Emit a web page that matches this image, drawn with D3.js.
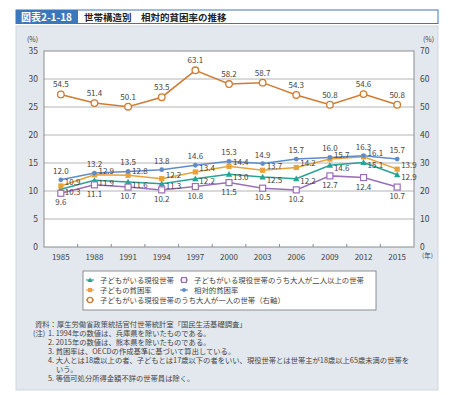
<!DOCTYPE html>
<html>
<head>
<meta charset="utf-8">
<script src="https://cdn.jsdelivr.net/npm/d3@7"></script>
<style>
  body { margin: 0; background: #fff; }
  svg text { font-family: "Noto Sans CJK JP", "Noto Sans", sans-serif; }
</style>
</head>
<body>
<svg id="chart" width="450" height="395"></svg>
<script>
// data
var years = ["1985", "1988", "1991", "1994", "1997", "2000", "2003", "2006", "2009", "2012", "2015"];
var soutai = [12.0, 13.2, 13.5, 13.8, 14.6, 15.3, 14.9, 15.7, 16.0, 16.3, 15.7];
var kodomo = [10.9, 12.9, 12.8, 12.2, 13.4, 14.4, 13.7, 14.2, 15.7, 16.1, 13.9];
var geneki = [10.3, 11.9, 11.6, 11.3, 12.2, 13.0, 12.5, 12.2, 14.6, 15.1, 12.9];
var futari = [9.6, 11.1, 10.7, 10.2, 10.8, 11.5, 10.5, 10.2, 12.7, 12.4, 10.7];
var hitori = [54.5, 51.4, 50.1, 53.5, 63.1, 58.2, 58.7, 54.3, 50.8, 54.6, 50.8];
var leftTicks = [0, 5, 10, 15, 20, 25, 30, 35];
var rightTicks = [0, 10, 20, 30, 40, 50, 60, 70];
var notes = [
    "資料：厚生労働省政策統括官付世帯統計室「国民生活基礎調査」",
    "1. 1994年の数値は、兵庫県を除いたものである。",
    "2. 2015年の数値は、熊本県を除いたものである。",
    "3. 貧困率は、OECDの作成基準に基づいて算出している。",
    "4. 大人とは18歳以上の者、子どもとは17歳以下の者をいい、現役世帯とは世帯主が18歳以上65歳未満の世帯を",
    "いう。",
    "5. 等価可処分所得金額不詳の世帯員は除く。"
];

var svg = d3.select('#chart');
var textCol = "#444";

// panel + title
svg.append("rect").attr("x", 16).attr("y", 26).attr("width", 422).attr("height", 364)
    .attr("fill", "#e2e8ee").attr("stroke", "#cfd6de");
svg.append("rect").attr("x", 16).attr("y", 10).attr("width", 422).attr("height", 13.5)
    .attr("fill", "#fff").attr("stroke", "#3a78bd").attr("stroke-width", 1);
svg.append("rect").attr("x", 16).attr("y", 10).attr("width", 62).attr("height", 13.5)
    .attr("fill", "#3a78bd");
svg.append("text").attr("x", 21).attr("y", 20.5).text("図表2-1-18")
    .attr("fill", "#fff").attr("font-size", 10).attr("font-weight", "bold");
svg.append("text").attr("x", 84).attr("y", 20.5).text("世帯構造別　相対的貧困率の推移")
    .attr("fill", "#222").attr("font-size", 9.5).attr("font-weight", "bold");

// plot area
var plotL = 44, plotR = 414, plotT = 51, plotB = 247;

var x = d3.scalePoint().domain(years).range([plotL, plotR]).padding(0.5);
var yL = d3.scaleLinear().domain([0, 35]).range([plotB, plotT]);
var yR = d3.scaleLinear().domain([0, 70]).range([plotB, plotT]);

svg.append("rect").attr("x", plotL).attr("y", plotT).attr("width", plotR - plotL).attr("height", plotB - plotT)
    .attr("fill", "#fff");

svg.selectAll(".grid").data(leftTicks.slice(1, -1)).enter().append("line")
    .attr("x1", plotL).attr("x2", plotR)
    .attr("y1", function (d) { return yL(d); }).attr("y2", function (d) { return yL(d); })
    .attr("stroke", "#b4b4b4").attr("stroke-width", 1);

svg.append("rect").attr("x", plotL).attr("y", plotT).attr("width", plotR - plotL).attr("height", plotB - plotT)
    .attr("fill", "none").attr("stroke", "#8c8c8c").attr("stroke-width", 1);

// x ticks between categories
var step = x.step();
var tickXs = years.slice(1).map(function (d) { return x(d) - step / 2; });
svg.selectAll(".xtick").data(tickXs).enter().append("line")
    .attr("x1", function (d) { return d; }).attr("x2", function (d) { return d; })
    .attr("y1", plotB).attr("y2", plotB - 3)
    .attr("stroke", "#8c8c8c");

// axis labels
svg.selectAll(".ylab").data(leftTicks).enter().append("text")
    .attr("x", 38).attr("y", function (d) { return yL(d) + 3; })
    .attr("text-anchor", "end").attr("font-size", 8.5).attr("fill", textCol)
    .text(function (d) { return d; });
svg.selectAll(".yrlab").data(rightTicks).enter().append("text")
    .attr("x", 420).attr("y", function (d) { return yR(d) + 3; })
    .attr("font-size", 8.5).attr("fill", textCol)
    .text(function (d) { return d; });
svg.selectAll(".xlab").data(years).enter().append("text")
    .attr("x", function (d) { return x(d); }).attr("y", 260)
    .attr("text-anchor", "middle").attr("font-size", 8).attr("fill", textCol)
    .text(function (d) { return d; });
svg.append("text").attr("x", 27).attr("y", 42).attr("font-size", 7).attr("fill", textCol).text("(%)");
svg.append("text").attr("x", 423).attr("y", 42).attr("font-size", 7).attr("fill", textCol).text("(%)");
svg.append("text").attr("x", 422).attr("y", 258).attr("font-size", 6.5).attr("fill", textCol).text("(年)");

// series
var series = [
    { name: "子どもがいる現役世帯", vals: geneki, y: yL, color: "#27a393", shape: "tri", lab: "right", dy: 5.5 },
    { name: "子どもがいる現役世帯のうち大人が二人以上の世帯", vals: futari, y: yL, color: "#9a70b8", shape: "osq", lab: "below", dy: 12 },
    { name: "子どもの貧困率", vals: kodomo, y: yL, color: "#e8a23a", shape: "sq", lab: "right", dy: -1 },
    { name: "相対的貧困率", vals: soutai, y: yL, color: "#5f8cc8", shape: "dot", lab: "above", dy: -6 },
    { name: "子どもがいる現役世帯のうち大人が一人の世帯（右軸）", vals: hitori, y: yR, color: "#d27b30", shape: "ocir", lab: "above", dy: -7 }
];

function drawMarker(g, shape, color, cx, cy, s) {
    s = s || 1;
    if (shape === "dot") {
        g.append("circle").attr("cx", cx).attr("cy", cy).attr("r", 2.4 * s).attr("fill", color);
    } else if (shape === "sq") {
        g.append("rect").attr("x", cx - 2.6 * s).attr("y", cy - 2.6 * s)
            .attr("width", 5.2 * s).attr("height", 5.2 * s).attr("fill", color);
    } else if (shape === "tri") {
        var r = 3.2 * s;
        g.append("path").attr("d", "M" + cx + "," + (cy - r) + "L" + (cx + r) + "," + (cy + r * 0.8) +
            "L" + (cx - r) + "," + (cy + r * 0.8) + "Z").attr("fill", color);
    } else if (shape === "osq") {
        g.append("rect").attr("x", cx - 3 * s).attr("y", cy - 3 * s)
            .attr("width", 6 * s).attr("height", 6 * s).attr("fill", "#fff")
            .attr("stroke", color).attr("stroke-width", 1.2);
    } else if (shape === "ocir") {
        g.append("circle").attr("cx", cx).attr("cy", cy).attr("r", 3.3 * s).attr("fill", "#fff")
            .attr("stroke", color).attr("stroke-width", 1.3);
    }
}

series.forEach(function (s) {
    var line = d3.line()
        .x(function (d, i) { return x(years[i]); })
        .y(function (d) { return s.y(d); });
    svg.append("path").datum(s.vals).attr("d", line)
        .attr("fill", "none").attr("stroke", s.color).attr("stroke-width", 1.5);
});

series.forEach(function (s) {
    var g = svg.append("g");
    s.vals.forEach(function (v, i) {
        drawMarker(g, s.shape, s.color, x(years[i]), s.y(v));
    });
});

series.forEach(function (s) {
    svg.append("g").selectAll("text").data(s.vals).enter().append("text")
        .attr("x", function (d, i) {
            return s.lab === "right" ? x(years[i]) + 4 : x(years[i]);
        })
        .attr("y", function (d) { return s.y(d) + s.dy; })
        .attr("text-anchor", s.lab === "right" ? "start" : "middle")
        .attr("font-size", 8).attr("fill", textCol)
        .text(function (d) { return d.toFixed(1); });
});

// legend
svg.append("rect").attr("x", 83).attr("y", 271).attr("width", 293).attr("height", 39)
    .attr("fill", "#fff").attr("stroke", "#777").attr("stroke-width", 0.8);
var legPos = [
    { s: series[0], x: 90, y: 280 },
    { s: series[1], x: 184, y: 280 },
    { s: series[2], x: 90, y: 290 },
    { s: series[3], x: 184, y: 290 },
    { s: series[4], x: 90, y: 300 }
];
var lg = svg.append("g");
legPos.forEach(function (p) {
    lg.append("line").attr("x1", p.x - 4).attr("x2", p.x + 4).attr("y1", p.y).attr("y2", p.y)
        .attr("stroke", p.s.color).attr("stroke-width", 1.2);
    drawMarker(lg, p.s.shape, p.s.color, p.x, p.y, 0.8);
    lg.append("text").attr("x", p.x + 10).attr("y", p.y + 3)
        .attr("font-size", 7.4).attr("fill", textCol).text(p.s.name);
});

// notes
var noteY = [324, 333, 342, 351, 360, 369, 378];
svg.append("text").attr("x", 33).attr("y", noteY[1] + 2.5).attr("font-size", 7.3).attr("fill", textCol).text("(注)");
notes.forEach(function (n, i) {
    var nx = i === 0 ? 35 : (i === 5 ? 56 : 48);
    svg.append("text").attr("x", nx).attr("y", noteY[i] + 2.5)
        .attr("font-size", 7.3).attr("fill", textCol).text(n);
});
</script>
</body>
</html>
